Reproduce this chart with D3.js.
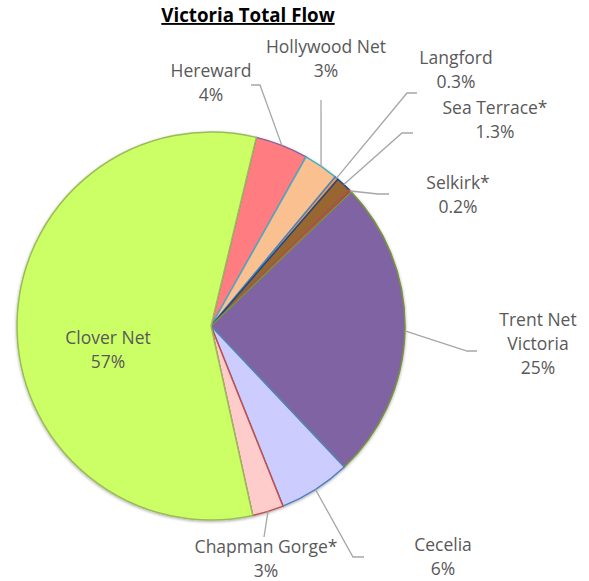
<!DOCTYPE html>
<meta charset="utf-8">
<script src="https://d3js.org/d3.v7.min.js"></script>
<style>
  body { margin: 0; background: #fff; }
  text { font-family: "Open Sans", sans-serif; }
</style>
<body>
<svg id="chart" width="589" height="581"></svg>
<script>
  // data, clockwise from the first slice
  var names   = ["Hereward", "Hollywood Net", "Langford", "Sea Terrace*", "Selkirk*",
                 "Trent Net Victoria", "Cecelia", "Chapman Gorge*", "Clover Net"];
  var shares  = [4.4, 2.9, 0.3, 1.3, 0.2, 25.1, 6.0, 2.6, 57.2];
  var pctText = ["4%", "3%", "0.3%", "1.3%", "0.2%", "25%", "6%", "3%", "57%"];
  var fills   = ["#ff7c80", "#fac090", "#f79646", "#996633", "#953735",
                 "#8064a2", "#ccccff", "#ffcccc", "#ccff66"];
  var borders = ["#8064a2", "#4bacc6", "#4f81bd", "#1f497d", "#c0504d",
                 "#77933c", "#4f81bd", "#c0504d", "#9bbb59"];

  // label lines (each entry = text lines, centre x, first line y)
  var labelLines = [["Hereward"], ["Hollywood Net"], ["Langford"], ["Sea Terrace*"], ["Selkirk*"],
                    ["Trent Net", "Victoria"], ["Cecelia"], ["Chapman Gorge*"], ["Clover Net"]];
  var labelPos = [[211, 71], [326, 47], [456, 58], [495, 108], [458, 183],
                  [538, 320], [443, 545], [266, 547], [108, 338]];
  // leader elbows: [elbow point, end point] (null = none)
  var leaders = [[[260, 85], [251, 85]], [[321, 100], null], [[407, 93], [417, 93]],
                 [[402, 133], [413, 133]], [[378, 194], [389, 194]],
                 [[467, 351], [477, 351]], [[353, 557], [364, 557]], [[264, 537], null], null];

  var svg = d3.select("#chart");
  var cx = 211, cy = 326, r = 194;

  var defs = svg.append("defs");
  var f = defs.append("filter").attr("id", "shadow")
      .attr("x", "-10%").attr("y", "-10%").attr("width", "120%").attr("height", "120%");
  f.append("feDropShadow").attr("dx", 0).attr("dy", 1).attr("stdDeviation", 1.5)
      .attr("flood-color", "#000").attr("flood-opacity", 0.35);

  var pie = d3.pie().sort(null).value(function(d){ return d; })
      .startAngle(13.5 * Math.PI / 180)
      .endAngle(13.5 * Math.PI / 180 + 2 * Math.PI);
  var arcs = pie(shares);
  var arc = d3.arc().innerRadius(0).outerRadius(r);
  var edge = d3.arc().innerRadius(r).outerRadius(r);

  var g = svg.append("g").attr("transform", "translate(" + cx + "," + cy + ")");

  g.append("g").attr("filter", "url(#shadow)")
    .selectAll("path")
    .data(arcs)
    .enter()
    .append("path")
      .attr("d", arc)
      .attr("fill", function(d, i){ return fills[i]; })
      .attr("stroke", function(d, i){ return borders[i]; })
      .attr("stroke-width", 1.5)
      .attr("stroke-linejoin", "round");

  // leader lines
  arcs.forEach(function(d, i) {
    if (!leaders[i]) return;
    var p = edge.centroid(d);
    var pts = [[cx + p[0], cy + p[1]], leaders[i][0]];
    if (leaders[i][1]) pts.push(leaders[i][1]);
    svg.append("path")
      .attr("d", d3.line()(pts))
      .attr("fill", "none")
      .attr("stroke", "#a6a6a6")
      .attr("stroke-width", 1.3);
  });

  // labels
  arcs.forEach(function(d, i) {
    var lines = labelLines[i].concat([pctText[i]]);
    var t = svg.append("text")
      .attr("text-anchor", "middle")
      .attr("fill", "#595959")
      .style("font-size", "17.5px");
    lines.forEach(function(s, k) {
      t.append("tspan")
        .attr("x", labelPos[i][0])
        .attr("y", labelPos[i][1] + k * 24)
        .attr("dy", "0.35em")
        .text(s);
    });
  });

  // title
  svg.append("text")
    .attr("x", 248).attr("y", 22)
    .attr("text-anchor", "middle")
    .style("font-size", "18.7px")
    .style("font-weight", "bold")
    .style("text-decoration", "underline")
    .attr("fill", "#000")
    .text("Victoria Total Flow");
</script>
</body>
